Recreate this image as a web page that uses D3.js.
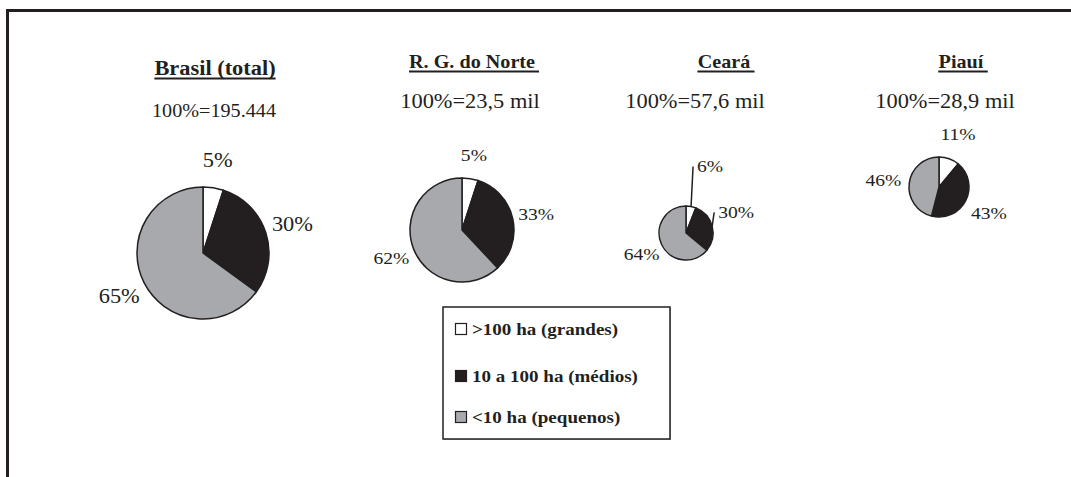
<!DOCTYPE html>
<html>
<head>
<meta charset="utf-8">
<script src="https://cdn.jsdelivr.net/npm/d3@7"></script>
<style>
  body { margin: 0; background: #fff; }
  text { font-family: "Liberation Serif", "Times New Roman", serif; fill: #231f20; }
</style>
</head>
<body>
<main></main>
<script>
const width = 1071, height = 477;

// data
const regions = ["Brasil (total)", "R. G. do Norte", "Ceará", "Piauí"];
const totals = ["100%=195.444", "100%=23,5 mil", "100%=57,6 mil", "100%=28,9 mil"];
const classes = [">100 ha (grandes)", "10 a 100 ha (médios)", "<10 ha (pequenos)"];
const grandes = [5, 5, 6, 11];
const medios = [30, 33, 30, 43];
const pequenos = [65, 62, 64, 46];

// layout of each panel (not data)
const panels = [
  {cx: 203, cy: 253, r: 66, tx: 215, ty: 75, sx: 214, sy: 117, titleSize: 20, subSize: 18, labelSize: 20, pad: 28, trail: 0},
  {cx: 462, cy: 230, r: 52, tx: 472, ty: 68, sx: 470, sy: 108, titleSize: 18, subSize: 20, labelSize: 17.5, pad: 24, trail: 4},
  {cx: 686, cy: 233, r: 27, tx: 724, ty: 68, sx: 695, sy: 108, titleSize: 18, subSize: 20, labelSize: 17.5, pad: 22, trail: 4, leaders: [40, 14]},
  {cx: 939, cy: 187, r: 30, tx: 961, ty: 68, sx: 945, sy: 108, titleSize: 18, subSize: 20, labelSize: 17.5, pad: 26, trail: 4}
];

const stretch = 1.12;
const ink = "#231f20";

const color = d3.scaleOrdinal()
    .domain(classes)
    .range(["#ffffff", "#231f20", "#a7a9ac"]);

const svg = d3.select("main").append("svg")
    .attr("width", width)
    .attr("height", height);

// frame (top and left only)
svg.append("line")
    .attr("x1", 6).attr("x2", width).attr("y1", 10.5).attr("y2", 10.5)
    .attr("stroke", ink).attr("stroke-width", 3);
svg.append("line")
    .attr("x1", 7.5).attr("x2", 7.5).attr("y1", 9).attr("y2", height)
    .attr("stroke", ink).attr("stroke-width", 3);

function addText(parent, str, x, y, size, weight, anchor) {
  return parent.append("text")
      .attr("transform", "translate(" + x + "," + y + ") scale(" + stretch + ",1)")
      .attr("text-anchor", anchor || "middle")
      .style("font-size", size + "px")
      .style("font-weight", weight || "normal")
      .text(str);
}

const pie = d3.pie().sort(null).value(function (d) { return d.value; });

regions.forEach(function (name, i) {
  const p = panels[i];
  const values = [grandes[i], medios[i], pequenos[i]].map(function (v, k) {
    return {cls: classes[k], value: v};
  });

  // title + underline
  const title = addText(svg, name, p.tx, p.ty, p.titleSize, "bold");
  const bb = title.node().getBBox();
  const w = bb.width * stretch;
  svg.append("line")
      .attr("x1", p.tx - w / 2).attr("x2", p.tx + w / 2 + p.trail)
      .attr("y1", p.ty + 3.5).attr("y2", p.ty + 3.5)
      .attr("stroke", ink).attr("stroke-width", 1.8);

  addText(svg, totals[i], p.sx, p.sy, p.subSize);

  const arc = d3.arc().innerRadius(0).outerRadius(p.r);
  const g = svg.append("g").attr("transform", "translate(" + p.cx + "," + p.cy + ")");
  const arcs = pie(values);

  g.selectAll("path")
      .data(arcs)
      .enter()
      .append("path")
      .attr("d", arc)
      .attr("fill", function (d) { return color(d.data.cls); })
      .attr("stroke", ink)
      .attr("stroke-width", 1.5)
      .attr("stroke-linejoin", "round");

  arcs.forEach(function (d, k) {
    const mid = (d.startAngle + d.endAngle) / 2;
    const txt = d.data.value + "%";
    if (p.leaders && k < p.leaders.length) {
      const x0 = p.r * Math.sin(mid), y0 = -p.r * Math.cos(mid);
      const x1 = x0 + 2, y1 = y0 - p.leaders[k];
      g.append("line")
          .attr("x1", x0).attr("y1", y0).attr("x2", x1).attr("y2", y1)
          .attr("stroke", ink).attr("stroke-width", 1.5);
      addText(g, txt, x1 + 4, y1 + 6, p.labelSize, "normal", "start");
    } else {
      const rr = p.r + p.pad;
      addText(g, txt, rr * Math.sin(mid), -rr * Math.cos(mid) + p.labelSize * 0.35, p.labelSize);
    }
  });
});

// legend
const legend = svg.append("g").attr("transform", "translate(443,307)");
legend.append("rect")
    .attr("x", 1).attr("y", 1).attr("width", 227).attr("height", 132)
    .attr("fill", "#bcbec0");
legend.append("rect")
    .attr("width", 227).attr("height", 132)
    .attr("fill", "#fff").attr("stroke", ink).attr("stroke-width", 1.5);

const item = legend.selectAll("g.item")
    .data(classes)
    .enter()
    .append("g")
    .attr("class", "item")
    .attr("transform", function (d, k) { return "translate(0," + [28, 75, 116][k] + ")"; });

item.append("rect")
    .attr("x", 12.5).attr("y", -11.5).attr("width", 11).attr("height", 11)
    .attr("fill", function (d) { return color(d); })
    .attr("stroke", ink).attr("stroke-width", 1.2);

item.each(function (d) {
  addText(d3.select(this), d, 29, 0, 17, "bold", "start");
});
</script>
</body>
</html>
